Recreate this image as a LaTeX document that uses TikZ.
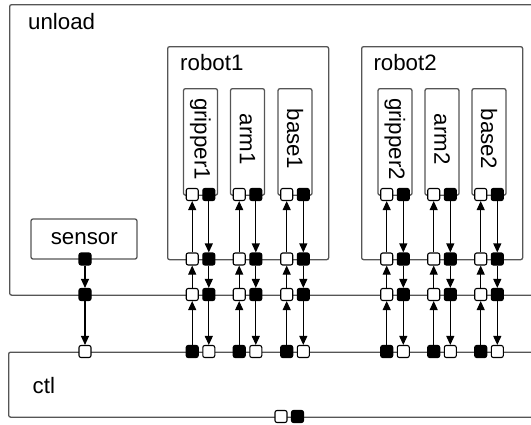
\documentclass[tikz,border=0pt]{standalone}
\usepackage{fontspec}
\setmainfont{Liberation Sans}
\usetikzlibrary{arrows.meta}
\definecolor{boxgray}{HTML}{555555}
\begin{document}
\begin{tikzpicture}[x=1pt,y=-1pt,
  box/.style={draw=boxgray,line width=1.3pt,rounded corners=2pt,inner sep=0pt},
  portbox/.style={draw=black,line width=1.1pt,minimum size=12pt,inner sep=0pt,rounded corners=2pt},
  inport/.style={portbox,fill=white},
  outport/.style={portbox,fill=black},
  conn/.style={-{Triangle[length=9pt,width=8pt]},line width=1.1pt,black},
  lab/.style={font=\fontsize{22.3}{26}\selectfont,inner sep=0pt}]
\clip (0,0) rectangle (531,424);
% outer frames
\node[box,anchor=north west,minimum width=600pt,minimum height=290.5pt] (unload) at (9,4) {};
\node[lab,anchor=base west] (unloadlab) at (28,29) {unload};
\node[box,anchor=north west,minimum width=600pt,minimum height=65pt] (ctl) at (8,351.5) {};
\node[lab,anchor=base west] (ctllab) at (32.5,393) {ctl};
% sensor
\node[box,minimum width=106pt,minimum height=40pt] (sensor) at (84,239) {};
\node[lab,anchor=base] (sensorlab) at (84.3,244.7) {sensor};
% robots
\node[box,anchor=north west,minimum width=161pt,minimum height=213pt] (robot1) at (167,46) {};
\node[lab,anchor=base west] (robot1lab) at (180,70) {robot1};
\node[box,anchor=north west,minimum width=161pt,minimum height=213pt] (robot2) at (361,46) {};
\node[lab,anchor=base west] (robot2lab) at (373.3,70) {robot2};
% components
\foreach \n/\c/\t in {g1/200.5/gripper1,a1/247.5/arm1,b1/295/base1,g2/395/gripper2,a2/442/arm2,b2/489/base2}{
  \node[box,anchor=north,minimum width=34pt,minimum height=106.5pt] (\n) at (\c,88) {};
  \node[lab,rotate=-90] (\n-lab) at (\c,139) {\t};
}
% ports
\foreach \n/\c in {g1/200.5,a1/247.5,b1/295,g2/395,a2/442,b2/489}{
  \node[inport]  (\n-i)  at ({\c-8.3},194.5) {};
  \node[outport] (\n-o)  at ({\c+8.3},194.5) {};
  \node[inport]  (\n-ri) at ({\c-8.3},259) {};
  \node[outport] (\n-ro) at ({\c+8.3},259) {};
  \node[inport]  (\n-ui) at ({\c-8.3},294.5) {};
  \node[outport] (\n-uo) at ({\c+8.3},294.5) {};
  \node[outport] (\n-co) at ({\c-8.3},351.5) {};
  \node[inport]  (\n-ci) at ({\c+8.3},351.5) {};
}
\node[outport] (sp)  at (85,259) {};
\node[outport] (sup) at (85,294.5) {};
\node[inport]  (scp) at (85,351.5) {};
\node[inport]  (cbi) at (281,416.5) {};
\node[outport] (cbo) at (297.5,416.5) {};
% connectors
\foreach \n in {g1,a1,b1,g2,a2,b2}{
  \draw[conn] (\n-co) -- (\n-ui);
  \draw[conn] (\n-ui) -- (\n-ri);
  \draw[conn] (\n-ri) -- (\n-i);
  \draw[conn] (\n-o) -- (\n-ro);
  \draw[conn] (\n-ro) -- (\n-uo);
  \draw[conn] (\n-uo) -- (\n-ci);
}
\draw[conn] (sp) -- (sup);
\draw[conn] (sup) -- (scp);
\end{tikzpicture}
\end{document}
